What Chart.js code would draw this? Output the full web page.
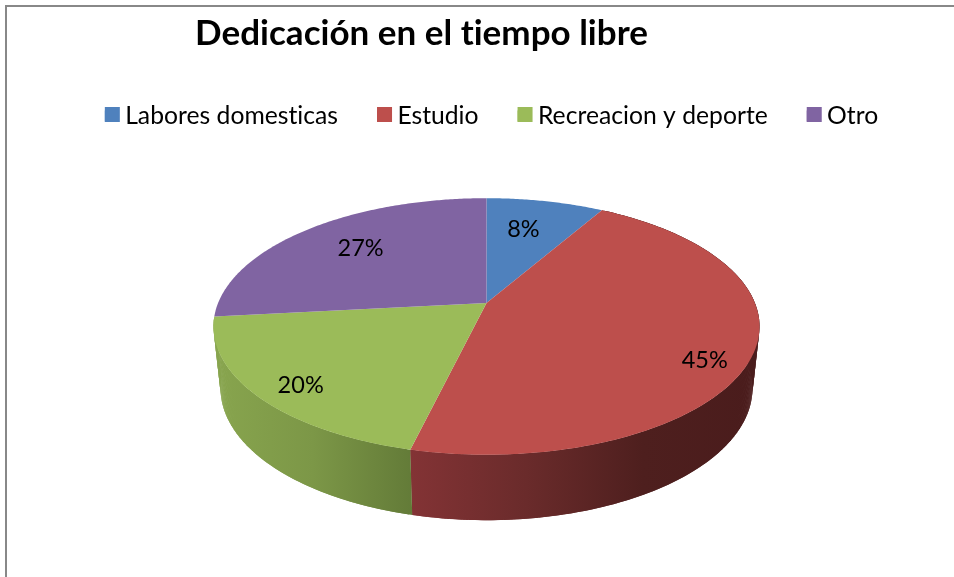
<!DOCTYPE html>
<html>
<head>
<meta charset="utf-8">
<style>
html,body{margin:0;padding:0;background:#fff;width:954px;height:577px;overflow:hidden}
#frame{position:absolute;left:5px;top:5px;right:0;bottom:0;border-left:2px solid #888;border-top:2px solid #888}
canvas{position:absolute;left:0;top:0}
</style>
<script src="https://cdn.jsdelivr.net/npm/chart.js@4/dist/chart.umd.js"></script>
</head>
<body>
<div id="frame"></div>
<canvas id="c" width="954" height="577"></canvas>
<script>
const categories = ["Labores domesticas", "Estudio", "Recreacion y deporte", "Otro"];
const values = [8.3, 45.45, 19.55, 26.7];
const topColors = ["#4f81bd", "#bd4f4c", "#9bbb59", "#8064a2"];
const titleText = "Dedicación en el tiempo libre";
const wallStops = [
  ["#3a5f8c", "#3a5f8c"],
  ["#833335", "#6a2b2b", "#4e1f1e", "#4a1c1c"],
  ["#88a54e", "#7c9747", "#637b38"],
  ["#5e4a78", "#5e4a78"]
];
const labelRadii = [0.69, 0.86, 0.85, 0.71];
const labelShiftDeg = [-2, 7.5, -2, 2];

// Perspective view of the pie: top plane and bottom plane of the disc
const K = 0.183;
const CX = 486.5;
const topPlane = {y0: 303, R: 268.4, B: 124};
const lowPlane = {y0: 364, R: 261.5, B: 127.6};
const LEGEND_PAD = 39, LEGEND_SIZE = 24.7;
const project = (pl, angle, r) => {
  const u = Math.cos(angle) * r, v = Math.sin(angle) * r, w = 1 - K * v;
  return [CX + pl.R * u / w, pl.y0 + pl.B * v / w];
};
const arcPoints = (pl, a, b) => {
  const n = Math.max(2, Math.ceil((b - a) / 0.01)), pts = [];
  for (let i = 0; i <= n; i++) pts.push(project(pl, a + (b - a) * i / n, 1));
  return pts;
};

const pie3d = {
  id: "pie3d",
  beforeLayout(chart) { chart.ctx.letterSpacing = "0.01px"; },
  beforeDraw(chart) { chart.ctx.letterSpacing = "0.01px"; },
  beforeDatasetDraw(chart, args) {
    const ctx = chart.ctx, arcs = args.meta.data;
    ctx.save();
    // side wall: only slices whose middle faces the viewer
    arcs.forEach((arc, i) => {
      if (Math.sin((arc.startAngle + arc.endAngle) / 2) <= 0) return;
      const t = arcPoints(topPlane, arc.startAngle, arc.endAngle);
      const l = arcPoints(lowPlane, arc.startAngle, arc.endAngle);
      const xs = t.concat(l).map(p => p[0]);
      const g = ctx.createLinearGradient(Math.min(...xs), 0, Math.max(...xs), 0);
      const stops = wallStops[i];
      stops.forEach((c, k) => g.addColorStop(k / (stops.length - 1), c));
      ctx.fillStyle = g;
      for (let k = 0; k < t.length - 1; k++) {
        const e = Math.min(k + 2, t.length - 1);
        ctx.beginPath();
        ctx.moveTo(t[k][0], t[k][1]);
        ctx.lineTo(t[e][0], t[e][1]);
        ctx.lineTo(l[e][0], l[e][1]);
        ctx.lineTo(l[k][0], l[k][1]);
        ctx.closePath();
        ctx.fill();
      }
    });
    // top face
    arcs.forEach((arc, i) => {
      const t = arcPoints(topPlane, arc.startAngle, arc.endAngle);
      ctx.beginPath();
      ctx.moveTo(CX, topPlane.y0);
      t.forEach(p => ctx.lineTo(p[0], p[1]));
      ctx.closePath();
      ctx.fillStyle = topColors[i];
      ctx.fill();
    });
    // percentage labels
    const total = values.reduce((s, v) => s + v, 0);
    ctx.font = "23.5px Lato";
    ctx.fillStyle = "#000";
    ctx.textAlign = "center";
    ctx.textBaseline = "middle";
    arcs.forEach((arc, i) => {
      const mid = (arc.startAngle + arc.endAngle) / 2 + labelShiftDeg[i] * Math.PI / 180;
      const p = project(topPlane, mid, labelRadii[i]);
      ctx.fillText(Math.round(values[i] / total * 100) + "%", p[0], p[1] + 1);
    });
    ctx.restore();
    return false;
  },
  afterLayout(chart) {
    const tb = chart.titleBlock, lg = chart.legend;
    const tdx = 421.5 - (tb.left + tb.right) / 2;
    tb.left += tdx; tb.right += tdx;
    tb.top = 5; tb.bottom = tb.top + tb.height;
    const dx = 491.5 - (lg.left + lg.right) / 2;
    const h = lg.bottom - lg.top;
    lg.left += dx; lg.right += dx;
    lg.top = 116 - LEGEND_PAD - LEGEND_SIZE / 2;
    lg.bottom = lg.top + h;
  },
  afterDraw(chart) {
    const ctx = chart.ctx, lg = chart.legend;
    lg.legendHitBoxes.forEach((h, i) => {
      ctx.fillStyle = topColors[i];
      ctx.fillRect(h.left, 107, 15, 15);
    });
  }
};

new Chart(document.getElementById("c"), {
  type: "pie",
  data: {
    labels: categories,
    datasets: [{data: values, backgroundColor: topColors, borderWidth: 0}]
  },
  options: {
    responsive: false,
    animation: false,
    plugins: {
      tooltip: {enabled: false},
      title: {
        display: true, text: titleText, color: "#000",
        font: {family: "Lato", size: 35, weight: "bold"},
        padding: {top: 8, bottom: 8}
      },
      legend: {
        position: "top",
        labels: {
          boxWidth: 8, boxHeight: 11, padding: LEGEND_PAD, color: "#000",
          font: {family: "Lato", size: LEGEND_SIZE}
        }
      }
    }
  },
  plugins: [pie3d]
});
</script>
</body>
</html>
